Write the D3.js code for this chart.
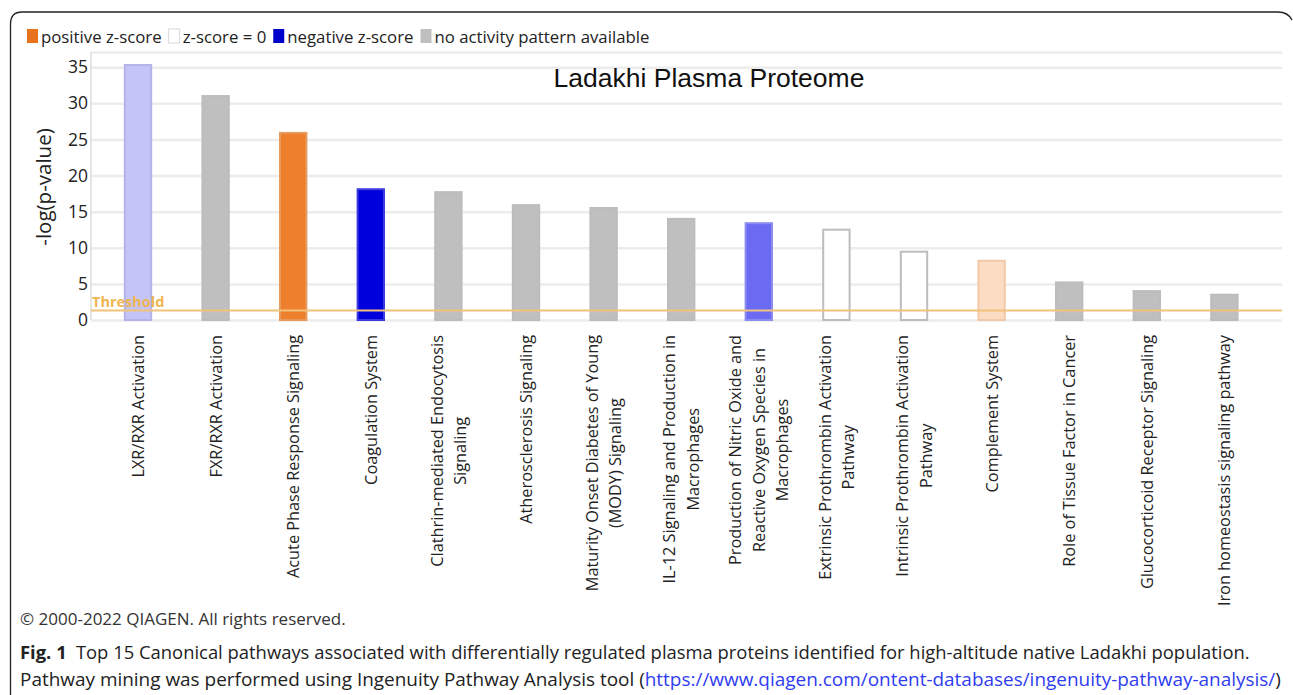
<!DOCTYPE html>
<html>
<head>
<meta charset="utf-8">
<script src="https://cdn.jsdelivr.net/npm/d3@7"></script>
<style>
  html, body { margin: 0; padding: 0; background: #fff; }
  svg { display: block; }
</style>
</head>
<body>
<svg id="chart" width="1293" height="695"></svg>
<script>
// Canonical pathways (label lines), -log(p-value) and z-score activity class
const categories = [
  ["LXR/RXR Activation"],
  ["FXR/RXR Activation"],
  ["Acute Phase Response Signaling"],
  ["Coagulation System"],
  ["Clathrin-mediated Endocytosis", "Signaling"],
  ["Atherosclerosis Signaling"],
  ["Maturity Onset Diabetes of Young", "(MODY) Signaling"],
  ["IL-12 Signaling and Production in", "Macrophages"],
  ["Production of Nitric Oxide and", "Reactive Oxygen Species in", "Macrophages"],
  ["Extrinsic Prothrombin Activation", "Pathway"],
  ["Intrinsic Prothrombin Activation", "Pathway"],
  ["Complement System"],
  ["Role of Tissue Factor in Cancer"],
  ["Glucocorticoid Receptor Signaling"],
  ["Iron homeostasis signaling pathway"]
];
const values = [35.3, 31.0, 25.9, 18.1, 17.7, 15.9, 15.5, 14.0, 13.4, 12.5, 9.45, 8.2, 5.2, 4.0, 3.5];
const activity = ["negLight", "none", "pos", "neg", "none", "none", "none", "none", "negMid", "zero", "zero", "posLight", "none", "none", "none"];
const yTicks = [0, 5, 10, 15, 20, 25, 30, 35];
const threshold = 1.3;
const legendItems = [
  { key: "pos", label: "positive z-score" },
  { key: "zero", label: "z-score = 0" },
  { key: "neg", label: "negative z-score" },
  { key: "none", label: "no activity pattern available" }
];

const fills = {
  pos: "#ee7f2c", posLight: "#fcdcc3",
  neg: "#0000dc", negMid: "#6a6af2", negLight: "#c4c4f6",
  zero: "#ffffff", none: "#bfbfbf"
};
const strokes = {
  pos: "#e79a5e", posLight: "#f1c9a8",
  neg: "#3a3ae0", negMid: "#8c8cf0", negLight: "#b4b4ea",
  zero: "#bdbdbd", none: "#bcbcbc"
};
const legendFill = { pos: "#e8721c", zero: "#ffffff", neg: "#0000cc", none: "#bfbfbf" };

const svg = d3.select("#chart");
const tickFont = "'Open Sans', 'Noto Sans', sans-serif";

// Panel border (left, top and top-right corner)
svg.append("path")
  .attr("d", "M10.5,695 L10.5,24 Q10.5,12 22,12 L1278,12 Q1288,12 1292,20")
  .attr("fill", "none").attr("stroke", "#222").attr("stroke-width", 1.3);

const plotLeft = 91, plotRight = 1282, plotTop = 52, plotBottom = 320;

const y = d3.scaleLinear().domain([0, 37.1]).range([plotBottom, plotTop]);
const x = d3.scaleBand()
  .domain(d3.range(categories.length))
  .range([99.2, 1263.2])
  .paddingInner(0.66)
  .paddingOuter(0.33);

// Gridlines
const grid = svg.append("g").attr("transform", `translate(${plotLeft},0)`)
  .call(d3.axisLeft(y).tickValues(yTicks.concat([37.1])).tickSize(-(plotRight - plotLeft)).tickFormat(""));
grid.select(".domain").remove();
grid.selectAll(".tick line").attr("stroke", "#ececec").attr("stroke-width", 2.5);

// Left axis line
svg.append("line")
  .attr("x1", plotLeft).attr("x2", plotLeft)
  .attr("y1", plotTop).attr("y2", plotBottom)
  .attr("stroke", "#dcdcdc").attr("stroke-width", 1.5);

// Y tick labels
const yAxis = svg.append("g").attr("transform", `translate(${plotLeft - 3},0)`)
  .call(d3.axisLeft(y).tickValues(yTicks).tickSize(0).tickPadding(0));
yAxis.select(".domain").remove();
yAxis.selectAll("text")
  .attr("font-family", tickFont).attr("font-size", 17.5).attr("fill", "#222");

// Y axis title
svg.append("text")
  .attr("transform", `translate(51,187) rotate(-90)`)
  .attr("text-anchor", "middle")
  .attr("font-family", tickFont).attr("font-size", 20.5).attr("fill", "#222")
  .text("-log(p-value)");

// Bars
svg.append("g").selectAll("rect")
  .data(values)
  .join("rect")
  .attr("x", (d, i) => x(i))
  .attr("width", x.bandwidth())
  .attr("y", d => y(d))
  .attr("height", d => y(0) - y(d))
  .attr("fill", (d, i) => fills[activity[i]])
  .attr("stroke", (d, i) => strokes[activity[i]])
  .attr("stroke-width", 2);

// Threshold line and label
svg.append("line")
  .attr("x1", plotLeft).attr("x2", plotRight)
  .attr("y1", y(threshold)).attr("y2", y(threshold))
  .attr("stroke", "#f0c27a").attr("stroke-width", 2);
svg.append("text")
  .attr("x", plotLeft + 1).attr("y", y(threshold) - 4)
  .attr("font-family", tickFont).attr("font-size", 14.5).attr("font-weight", 700)
  .attr("fill", "#f0b550")
  .text("Threshold");

// Chart title
svg.append("text")
  .attr("x", 709).attr("y", 87)
  .attr("text-anchor", "middle")
  .attr("font-family", "'Liberation Sans', Arial, sans-serif").attr("font-size", 26.5)
  .attr("fill", "#111")
  .text("Ladakhi Plasma Proteome");

// Category labels, rotated; lines are centred on each other and top-aligned
const lineGap = 23.5;
const labelG = svg.append("g");
categories.forEach((lines, i) => {
  const cx = x(i) + x.bandwidth() / 2;
  const n = lines.length;
  const g = labelG.append("g");
  const texts = lines.map((ln, k) => {
    const lx = cx + (k - (n - 1) / 2) * lineGap + 6;
    return g.append("text")
      .attr("font-family", tickFont).attr("font-size", 16.3).attr("fill", "#222")
      .attr("text-anchor", "middle")
      .attr("data-lx", lx)
      .text(ln);
  });
  const maxLen = d3.max(texts, t => t.node().getComputedTextLength());
  const midY = 335 + maxLen / 2;
  texts.forEach(t => {
    const lx = +t.attr("data-lx");
    t.attr("transform", `translate(${lx},${midY}) rotate(-90)`).attr("data-lx", null);
  });
});

// Legend
let lx = 27;
const legendG = svg.append("g");
legendItems.forEach(item => {
  legendG.append("rect")
    .attr("x", lx).attr("y", 29).attr("width", 11).attr("height", 14)
    .attr("fill", legendFill[item.key])
    .attr("stroke", item.key === "zero" ? "#d8d8d8" : "none");
  const t = legendG.append("text")
    .attr("x", lx + 14).attr("y", 42.5)
    .attr("font-family", tickFont).attr("font-size", 16.8).attr("fill", "#222")
    .text(item.label);
  lx += 14 + t.node().getComputedTextLength() + 7;
});

// Copyright line
svg.append("text")
  .attr("x", 20).attr("y", 625)
  .attr("font-family", tickFont).attr("font-size", 17).attr("fill", "#333")
  .text("© 2000-2022 QIAGEN. All rights reserved.");

// Figure caption
const cap1 = svg.append("text")
  .attr("x", 20).attr("y", 659)
  .attr("font-family", tickFont).attr("font-size", 16.5).attr("fill", "#222");
cap1.append("tspan").attr("font-weight", 700).text("Fig. 1");
cap1.append("tspan").text("\u2002Top 15 Canonical pathways associated with differentially regulated plasma proteins identified for high-altitude native Ladakhi population.");

const cap2 = svg.append("text")
  .attr("x", 20).attr("y", 686)
  .attr("font-family", tickFont).attr("font-size", 16.5).attr("fill", "#222");
cap2.append("tspan").text("Pathway mining was performed using Ingenuity Pathway Analysis tool (");
cap2.append("tspan").attr("fill", "#2f3cf0").text("https://www.qiagen.com/ontent-databases/ingenuity-pathway-analysis/");
cap2.append("tspan").text(")");

// Fit caption lines to their printed widths
[[cap1, 1230], [cap2, 1262]].forEach(([t, w]) => {
  const len = t.node().getComputedTextLength();
  t.attr("font-size", 16.5 * w / len);
});
</script>
</body>
</html>
